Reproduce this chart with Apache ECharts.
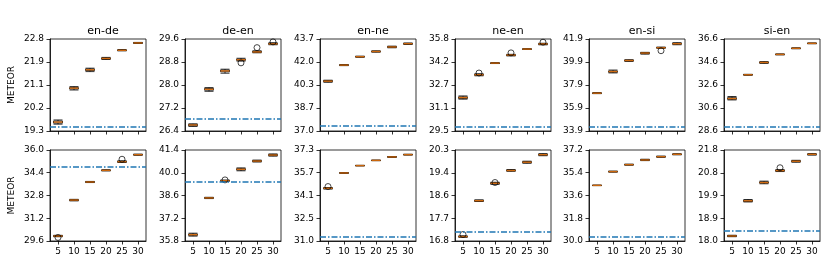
<!DOCTYPE html>
<html>
<head>
<meta charset="utf-8">
<script src="https://cdn.jsdelivr.net/npm/echarts@6/dist/echarts.min.js"></script>
<style>html,body{margin:0;padding:0;background:#fff;}#c{width:830px;height:277px;}</style>
</head>
<body>
<div id="c"></div>
<script>
// ---------- DATA ----------
const categories = ['5', '10', '15', '20', '25', '30'];
const pairs = ['en-de', 'de-en', 'en-ne', 'ne-en', 'en-si', 'si-en'];
const yAxisName = 'METEOR';

// y tick labels per panel (row 1 then row 2)
const ticksTop = [
  ['19.3', '20.2', '21.1', '21.9', '22.8'],
  ['26.4', '27.2', '28.0', '28.8', '29.6'],
  ['37.0', '38.7', '40.3', '42.0', '43.7'],
  ['29.5', '31.1', '32.7', '34.2', '35.8'],
  ['33.9', '35.9', '37.9', '39.9', '41.9'],
  ['28.6', '30.6', '32.6', '34.6', '36.6']
];
const ticksBottom = [
  ['29.6', '31.2', '32.8', '34.4', '36.0'],
  ['35.8', '37.2', '38.6', '40.0', '41.4'],
  ['31.0', '32.5', '34.1', '35.7', '37.3'],
  ['16.8', '17.7', '18.6', '19.4', '20.3'],
  ['30.0', '31.8', '33.6', '35.4', '37.2'],
  ['18.0', '18.9', '19.9', '20.8', '21.8']
];

// boxes: [min, q1, median, q3, max] for x = 5..30
const boxesTopEnDe = [[19.56,19.60,19.64,19.68,19.72],[20.86,20.90,20.93,20.95,20.99],[21.56,21.60,21.63,21.66,21.69],[22.02,22.04,22.06,22.08,22.10],[22.35,22.36,22.37,22.38,22.40],[22.63,22.64,22.65,22.66,22.67]];
const boxesTopDeEn = [[26.56,26.58,26.61,26.63,26.65],[27.78,27.82,27.85,27.88,27.91],[28.41,28.46,28.49,28.52,28.55],[28.83,28.86,28.88,28.90,28.93],[29.12,29.14,29.15,29.17,29.19],[29.40,29.42,29.43,29.45,29.47]];
const boxesTopEnNe = [[40.55,40.59,40.63,40.67,40.70],[41.76,41.78,41.80,41.82,41.84],[42.37,42.39,42.41,42.43,42.45],[42.74,42.77,42.79,42.81,42.84],[43.06,43.09,43.12,43.15,43.18],[43.30,43.33,43.36,43.38,43.41]];
const boxesTopNeEn = [[31.68,31.73,31.79,31.84,31.90],[33.28,33.32,33.35,33.38,33.42],[34.12,34.13,34.15,34.16,34.18],[34.64,34.67,34.70,34.72,34.75],[35.09,35.10,35.11,35.12,35.13],[35.40,35.43,35.46,35.48,35.51]];
const boxesTopEnSi = [[37.15,37.17,37.19,37.21,37.23],[38.95,39.01,39.07,39.12,39.20],[39.95,39.99,40.03,40.06,40.10],[40.58,40.64,40.68,40.71,40.74],[41.10,41.12,41.14,41.16,41.20],[41.40,41.45,41.49,41.53,41.58]];
const boxesTopSiEn = [[31.30,31.36,31.42,31.50,31.60],[33.45,33.47,33.49,33.51,33.53],[34.48,34.52,34.56,34.60,34.63],[35.22,35.24,35.26,35.28,35.30],[35.75,35.77,35.79,35.81,35.83],[36.19,36.20,36.22,36.24,36.25]];

const boxesBottomEnDe = [[29.90,29.92,29.95,29.98,30.00],[32.42,32.45,32.48,32.50,32.53],[33.71,33.73,33.75,33.77,33.79],[34.53,34.55,34.57,34.59,34.61],[35.12,35.15,35.18,35.21,35.24],[35.63,35.65,35.67,35.69,35.71]];
const boxesBottomDeEn = [[36.10,36.15,36.19,36.23,36.28],[38.41,38.43,38.45,38.47,38.49],[39.47,39.49,39.51,39.53,39.55],[40.12,40.17,40.21,40.25,40.30],[40.66,40.69,40.72,40.75,40.78],[41.02,41.06,41.09,41.12,41.16]];
const boxesBottomEnNe = [[34.60,34.62,34.65,34.68,34.70],[35.69,35.70,35.71,35.72,35.73],[36.20,36.21,36.22,36.23,36.24],[36.56,36.57,36.58,36.59,36.60],[36.79,36.81,36.82,36.83,36.85],[36.95,36.97,36.98,36.99,37.01]];
const boxesBottomNeEn = [[16.94,16.96,16.97,16.98,17.00],[18.32,18.33,18.35,18.37,18.38],[18.98,19.00,19.02,19.04,19.06],[19.48,19.50,19.51,19.53,19.55],[19.79,19.81,19.83,19.85,19.87],[20.08,20.10,20.12,20.14,20.16]];
const boxesBottomEnSi = [[34.38,34.39,34.40,34.41,34.42],[35.45,35.47,35.49,35.51,35.53],[36.00,36.02,36.04,36.06,36.08],[36.36,36.39,36.41,36.44,36.47],[36.62,36.65,36.67,36.69,36.72],[36.82,36.84,36.86,36.88,36.90]];
const boxesBottomSiEn = [[18.18,18.19,18.21,18.23,18.24],[19.63,19.65,19.68,19.71,19.73],[20.39,20.42,20.44,20.47,20.50],[20.90,20.92,20.94,20.96,20.98],[21.29,21.31,21.33,21.35,21.37],[21.59,21.60,21.62,21.63,21.65]];

// outliers: [category, value]
const outliersTopEnDe = [];
const outliersTopDeEn = [['20', 28.77], ['25', 29.30], ['30', 29.50]];
const outliersTopEnNe = [];
const outliersTopNeEn = [['10', 33.47], ['20', 34.85], ['30', 35.58]];
const outliersTopEnSi = [['25', 40.88]];
const outliersTopSiEn = [];
const outliersBottomEnDe = [['5', 29.85], ['25', 35.35]];
const outliersBottomDeEn = [['15', 39.56]];
const outliersBottomEnNe = [['5', 34.77]];
const outliersBottomNeEn = [['5', 17.05], ['15', 19.05]];
const outliersBottomEnSi = [];
const outliersBottomSiEn = [['20', 21.06]];

// dash-dot reference lines
const baselineTop = [19.48, 26.82, 37.37, 29.82, 34.31, 29.01];
const baselineBottom = [34.83, 39.43, 31.30, 17.17, 30.34, 18.43];

// ---------- BUILD ----------
const boxesTop = [boxesTopEnDe, boxesTopDeEn, boxesTopEnNe, boxesTopNeEn, boxesTopEnSi, boxesTopSiEn];
const boxesBottom = [boxesBottomEnDe, boxesBottomDeEn, boxesBottomEnNe, boxesBottomNeEn, boxesBottomEnSi, boxesBottomSiEn];
const outTop = [outliersTopEnDe, outliersTopDeEn, outliersTopEnNe, outliersTopNeEn, outliersTopEnSi, outliersTopSiEn];
const outBottom = [outliersBottomEnDe, outliersBottomDeEn, outliersBottomEnNe, outliersBottomNeEn, outliersBottomEnSi, outliersBottomSiEn];

const FONT = 'DejaVu Sans';
const lefts = [50, 185, 320, 455, 589, 724];
const W = 96;
const rows = [{ top: 39, h: 92 }, { top: 150, h: 91 }];

const grid = [], xAxis = [], yAxis = [], series = [], title = [];
pairs.forEach((p, c) => {
  title.push({
    text: p, left: lefts[c] + W / 2, top: 21, textAlign: 'center',
    textStyle: { fontFamily: FONT, fontSize: 11, fontWeight: 'normal', color: '#000' }
  });
});

let gi = 0;
for (let r = 0; r < 2; r++) {
  for (let c = 0; c < 6; c++) {
    const ticks = r === 0 ? ticksTop[c] : ticksBottom[c];
    const boxes = r === 0 ? boxesTop[c] : boxesBottom[c];
    const outs = r === 0 ? outTop[c] : outBottom[c];
    const base = r === 0 ? baselineTop[c] : baselineBottom[c];
    const mn = parseFloat(ticks[0]), mx = parseFloat(ticks[4]);
    const itv = (mx - mn) / 4;
    grid.push({
      left: lefts[c], top: rows[r].top, width: W, height: rows[r].h,
      show: true, borderColor: '#000', borderWidth: 0.8, backgroundColor: 'transparent'
    });
    xAxis.push({
      type: 'category', gridIndex: gi, data: categories, boundaryGap: true,
      axisLine: { show: true, lineStyle: { color: '#000', width: 0.8 } },
      axisTick: { show: true, alignWithLabel: true, length: 3.5, lineStyle: { color: '#000', width: 0.8 } },
      axisLabel: { show: r === 1, fontFamily: FONT, fontSize: 9, color: '#000', margin: 6, interval: 0 },
      splitLine: { show: false }
    });
    yAxis.push({
      type: 'value', gridIndex: gi, min: mn, max: mx, interval: itv,
      name: c === 0 ? yAxisName : '', nameLocation: 'middle', nameGap: 34, nameRotate: 90,
      nameTextStyle: { fontFamily: FONT, fontSize: 9, color: '#000' },
      axisLine: { show: true, lineStyle: { color: '#000', width: 0.8 } },
      axisTick: { show: true, length: 3.5, lineStyle: { color: '#000', width: 0.8 } },
      axisLabel: {
        fontFamily: FONT, fontSize: 9, color: '#000', margin: 6, showMinLabel: true, showMaxLabel: true,
        formatter: (v) => ticks[Math.round((v - mn) / itv)]
      },
      splitLine: { show: false }
    });
    series.push({
      type: 'boxplot', xAxisIndex: gi, yAxisIndex: gi, data: boxes, boxWidth: [9, 9],
      itemStyle: { color: 'rgba(255,255,255,0)', borderColor: '#000', borderWidth: 0.8 },
      markLine: {
        silent: true, symbol: 'none', label: { show: false },
        lineStyle: { color: '#1f77b4', width: 1.5, type: [6, 2, 1.5, 2], opacity: 1 },
        data: [{ yAxis: base }]
      },
      z: 2
    });
    series.push({
      type: 'scatter', xAxisIndex: gi, yAxisIndex: gi,
      data: boxes.map((b, i) => [categories[i], b[2]]),
      symbol: 'rect', symbolSize: [9, 1.4],
      itemStyle: { color: '#ff7f0e' }, z: 3
    });
    series.push({
      type: 'scatter', xAxisIndex: gi, yAxisIndex: gi, data: outs,
      symbol: 'circle', symbolSize: 6,
      itemStyle: { color: 'rgba(255,255,255,0)', borderColor: '#000', borderWidth: 0.9 }, z: 4
    });
    gi++;
  }
}

const chart = echarts.init(document.getElementById('c'), null, { renderer: 'canvas' });
chart.setOption({ animation: false, backgroundColor: '#fff', title, grid, xAxis, yAxis, series });
</script>
</body>
</html>
